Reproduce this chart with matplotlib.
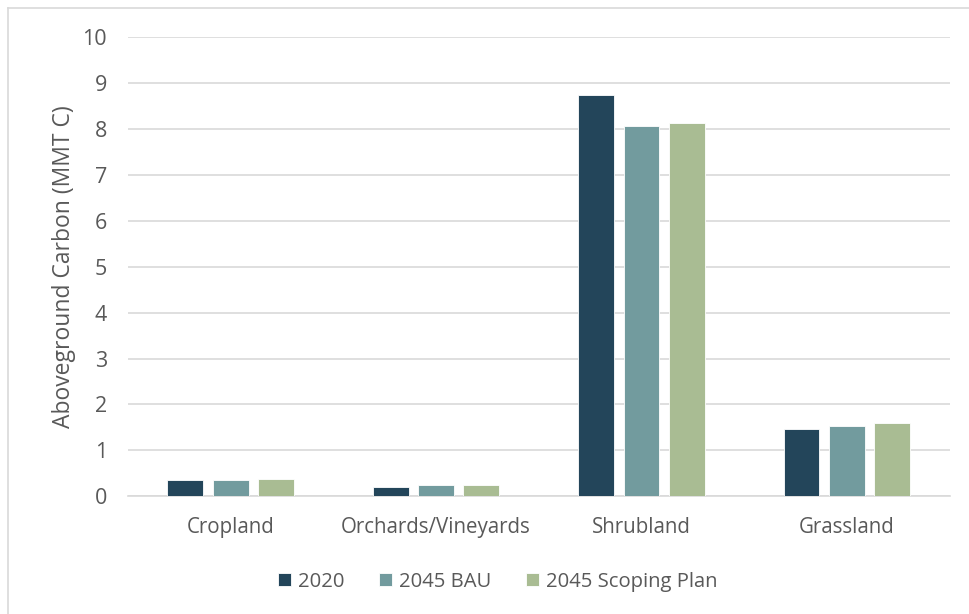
import matplotlib
matplotlib.use('Agg')
import matplotlib.pyplot as plt
import numpy as np
from matplotlib.lines import Line2D

plt.rcParams['font.family'] = ['Open Sans', 'DejaVu Sans']

categories = ['Cropland', 'Orchards/Vineyards', 'Shrubland', 'Grassland']
series_names = ['2020', '2045 BAU', '2045 Scoping Plan']
v2020 = [0.36, 0.20, 8.74, 1.46]
v2045_bau = [0.35, 0.25, 8.08, 1.53]
v2045_sp = [0.37, 0.25, 8.14, 1.59]
colors = ['#23455a', '#729b9e', '#a9bc93']

text_col = '#595959'
grid_col = '#d9d9d9'

fig = plt.figure(figsize=(9.69, 6.14), dpi=100)
ax = fig.add_axes([0.132, 0.192, 0.848, 0.747])

x = np.arange(len(categories))
width = 0.175
step = 0.221
for i, (vals, name) in enumerate(zip([v2020, v2045_bau, v2045_sp], series_names)):
    ax.bar(x + (i - 1) * step, vals, width, color=colors[i], label=name,
           edgecolor='white', linewidth=0.6, zorder=3)

ax.set_xlim(-0.5, len(categories) - 0.5)
ax.set_ylim(0, 10)
ax.set_yticks(range(0, 11))
ax.set_xticks(x)
ax.set_xticklabels(categories)
ax.yaxis.grid(True, color=grid_col, linewidth=1.2, zorder=0)
for s in ['top', 'right', 'left']:
    ax.spines[s].set_visible(False)
ax.spines['bottom'].set_color(grid_col)
ax.spines['bottom'].set_linewidth(1.2)
ax.tick_params(length=0, colors=text_col)
ax.tick_params(axis='x', pad=15, labelsize=14.8)
ax.tick_params(axis='y', pad=15, labelsize=15.5)
ax.set_ylabel('Aboveground Carbon (MMT C)', color=text_col, fontsize=16.5, labelpad=5)

ax.legend(loc='upper center', bbox_to_anchor=(0.45, -0.125), ncol=3, frameon=False,
          fontsize=14.6, labelcolor=text_col, handlelength=0.65, handleheight=0.65,
          columnspacing=1.7, handletextpad=0.35)

# light frame on top and left like the exported chart area
fig.add_artist(Line2D([8 / 969, 1], [1 - 8 / 614, 1 - 8 / 614], color=grid_col, lw=1.2))
fig.add_artist(Line2D([8 / 969, 8 / 969], [0, 1 - 8 / 614], color=grid_col, lw=1.2))

fig.savefig('out.png', dpi=100)
